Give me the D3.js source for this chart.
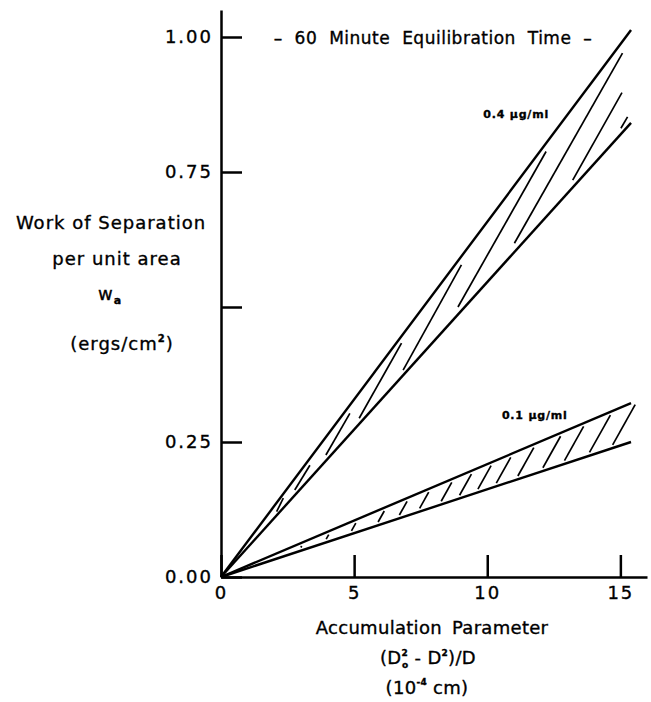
<!DOCTYPE html>
<html>
<head>
<meta charset="utf-8">
<script src="https://cdn.jsdelivr.net/npm/d3@7"></script>
<style>
  body { margin: 0; background: #fff; }
  svg text { font-family: "DejaVu Sans", sans-serif; fill: #000; stroke: #000; stroke-width: 0.35px; }
</style>
</head>
<body>
<div id="chart"></div>
<script>
// axis ticks
const xTicks = [0, 5, 10, 15];
const xTickLabels = ["0", "5", "10", "15"];
const yTicks = [0, 0.25, 0.5, 0.75, 1.0];
const yTickLabels = ["0.00", "0.25", "", "0.75", "1.00"];

// band boundary lines, straight from the origin
const lineX = [0, 15.4];
const upper04 = [0, 1.013];
const lower04 = [0, 0.841];
const upper01 = [0, 0.322];
const lower01 = [0, 0.25];

// long hatch strokes in the 0.4 band: [x0, y0, x1, y1]
const hatch04 = [
    [2.09, 0.121, 2.34, 0.146],
    [2.77, 0.161, 3.34, 0.207],
    [3.94, 0.226, 4.84, 0.303],
    [5.19, 0.294, 6.78, 0.433],
    [6.84, 0.383, 9.03, 0.578],
    [8.90, 0.500, 12.21, 0.788],
    [11.02, 0.618, 15.08, 0.970],
    [13.21, 0.735, 15.06, 0.897],
    [15.02, 0.831, 15.27, 0.852]
];

// short hatch strokes in the 0.1 band: x where each one starts
const hatch01X = [3.0, 3.95, 4.9, 5.9, 6.7, 7.46, 8.27, 8.96, 9.65, 10.34, 11.15, 12.09, 12.9, 13.84, 14.71];
const hatchSlope = 0.088;

const width = 651, height = 702;

const svg = d3.select("#chart").append("svg")
    .attr("width", width)
    .attr("height", height);

const x = d3.scaleLinear().domain([0, 16]).range([221, 647]);
const y = d3.scaleLinear().domain([0, 1.05]).range([577, 10]);

// axes, ticks point inward
const yAxis = svg.append("g")
    .attr("transform", `translate(${x(0)},0)`)
    .call(d3.axisLeft(y)
        .tickValues(yTicks)
        .tickFormat((d, i) => yTickLabels[i])
        .tickSizeInner(-21)
        .tickSizeOuter(0)
        .tickPadding(8));

const xAxis = svg.append("g")
    .attr("transform", `translate(0,${y(0)})`)
    .call(d3.axisBottom(x)
        .tickValues(xTicks)
        .tickFormat((d, i) => xTickLabels[i])
        .tickSizeInner(-22)
        .tickSizeOuter(0)
        .tickPadding(9));

[yAxis, xAxis].forEach(g => {
    g.select(".domain").attr("stroke", "#000").attr("stroke-width", 2.5);
    g.selectAll(".tick line").attr("stroke", "#000").attr("stroke-width", 2.5);
    g.selectAll(".tick text")
        .attr("font-family", "DejaVu Sans")
        .attr("font-size", 18)
        .attr("letter-spacing", 2)
        .attr("fill", "#000");
});

// band lines
const bandLines = [upper04, lower04, upper01, lower01];
const line = d3.line()
    .x((d, i) => x(lineX[i]))
    .y(d => y(d));

svg.selectAll(".band-line")
    .data(bandLines)
    .enter().append("path")
    .attr("class", "band-line")
    .attr("d", d => line(d))
    .attr("fill", "none")
    .attr("stroke", "#000")
    .attr("stroke-width", 2.4);

// hatching, 0.4 ug/ml
svg.selectAll(".hatch04")
    .data(hatch04)
    .enter().append("line")
    .attr("class", "hatch04")
    .attr("x1", d => x(d[0]))
    .attr("y1", d => y(d[1]))
    .attr("x2", d => x(d[2]))
    .attr("y2", d => y(d[3]))
    .attr("stroke", "#000")
    .attr("stroke-width", 1.7);

// hatching, 0.1 ug/ml: stroke runs from just above the lower line up to just below the upper line
const loSlope = lower01[1] / lineX[1];
const hiSlope = upper01[1] / lineX[1];
const gap = 0.006;
const hatch01 = hatch01X.map(x0 => {
    const y0 = loSlope * x0 + gap;
    const x1 = (y0 - hatchSlope * x0 + gap) / (hiSlope - hatchSlope);
    return [x0, y0, x1, hiSlope * x1 - gap];
}).filter(d => d[3] > d[1]);

svg.selectAll(".hatch01")
    .data(hatch01)
    .enter().append("line")
    .attr("class", "hatch01")
    .attr("x1", d => x(d[0]))
    .attr("y1", d => y(d[1]))
    .attr("x2", d => x(d[2]))
    .attr("y2", d => y(d[3]))
    .attr("stroke", "#000")
    .attr("stroke-width", 1.7);

// band labels
svg.append("text")
    .attr("x", x(9.85)).attr("y", y(0.85))
    .attr("font-size", 11).attr("font-weight", "bold")
    .attr("letter-spacing", 0.8)
    .text("0.4 µg/ml");

svg.append("text")
    .attr("x", x(10.55)).attr("y", y(0.292))
    .attr("font-size", 11).attr("font-weight", "bold")
    .attr("letter-spacing", 0.8)
    .text("0.1 µg/ml");

// title
svg.append("text")
    .attr("x", 433).attr("y", 44)
    .attr("text-anchor", "middle")
    .attr("font-size", 17)
    .attr("letter-spacing", 0.5)
    .attr("word-spacing", 6)
    .text("– 60 Minute Equilibration Time –");

// y axis title
const yt = svg.append("g").attr("font-size", 18).attr("text-anchor", "middle").attr("letter-spacing", 1);
yt.append("text").attr("x", 111).attr("y", 229).text("Work of Separation");
yt.append("text").attr("x", 117).attr("y", 265).text("per unit area");
const wa = yt.append("text").attr("x", 110).attr("y", 300);
wa.append("tspan").text("w");
wa.append("tspan").attr("font-size", 11).attr("font-weight", "bold").attr("dy", 4).text("a");
const erg = yt.append("text").attr("x", 122).attr("y", 350);
erg.append("tspan").text("(ergs/cm");
erg.append("tspan").attr("font-size", 10).attr("font-weight", "bold").attr("dy", -8).text("2");
erg.append("tspan").attr("dy", 8).text(")");

// x axis title
const xt = svg.append("g").attr("font-size", 18).attr("text-anchor", "middle").attr("letter-spacing", 0.3);
xt.append("text").attr("x", 432).attr("y", 634).attr("word-spacing", 4).text("Accumulation Parameter");
const dd = xt.append("text").attr("x", 428).attr("y", 664);
dd.append("tspan").text("(D");
dd.append("tspan").attr("font-size", 9).attr("font-weight", "bold").attr("dy", -8).text("2");
dd.append("tspan").attr("font-size", 9).attr("font-weight", "bold").attr("dx", -6).attr("dy", 12).text("o");
dd.append("tspan").attr("dy", -4).text(" - D");
dd.append("tspan").attr("font-size", 9).attr("font-weight", "bold").attr("dy", -8).text("2");
dd.append("tspan").attr("dy", 8).text(")/D");
const cm = xt.append("text").attr("x", 427).attr("y", 694);
cm.append("tspan").text("(10");
cm.append("tspan").attr("font-size", 9).attr("font-weight", "bold").attr("dy", -9).text("-4");
cm.append("tspan").attr("dy", 9).text(" cm)");
</script>
</body>
</html>
